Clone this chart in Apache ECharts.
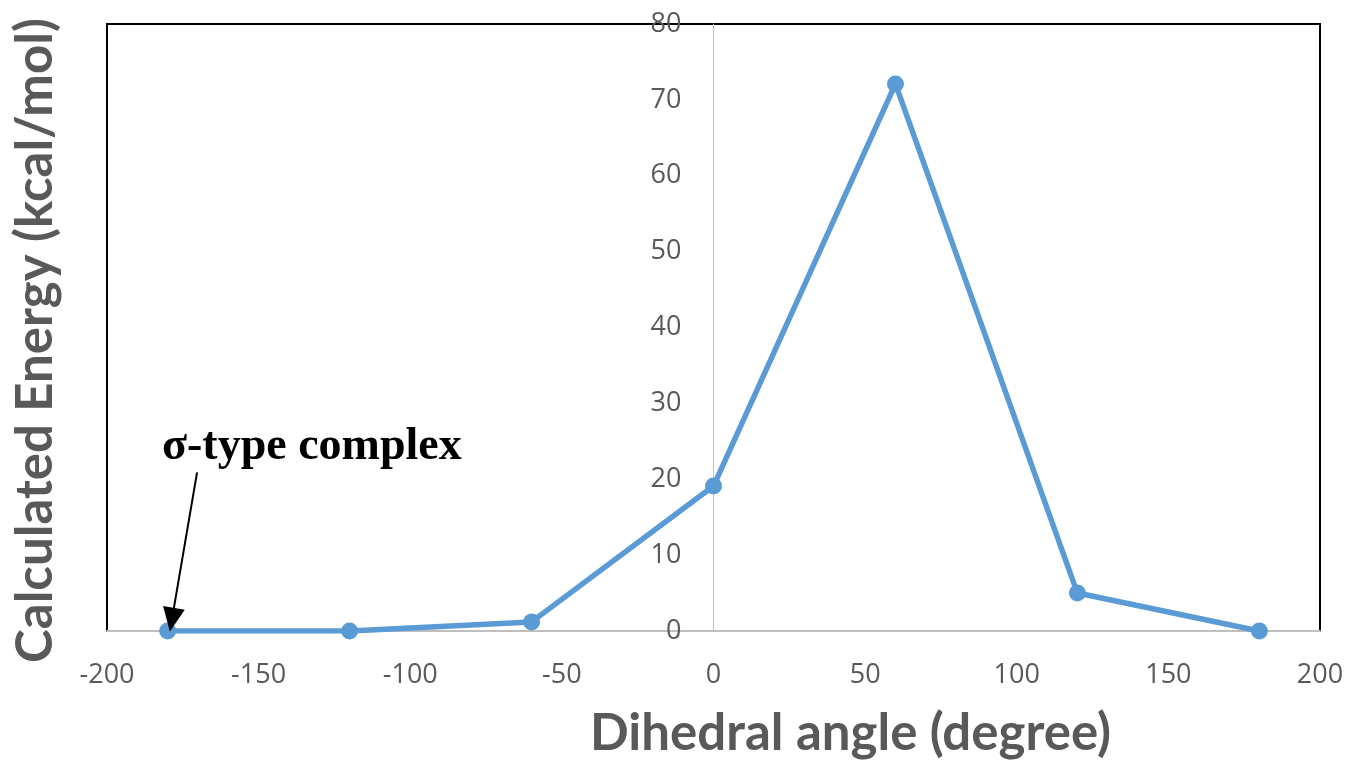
<!DOCTYPE html>
<html>
<head>
<meta charset="utf-8">
<script src="https://cdn.jsdelivr.net/npm/echarts@6/dist/echarts.min.js"></script>
<style>
  html, body { margin: 0; padding: 0; background: #fff; }
  #chart { width: 1347px; height: 768px; }
</style>
</head>
<body>
<div id="chart"></div>
<script>
// Dihedral scan: angle (degree) vs calculated energy (kcal/mol)
const angles = [-180, -120, -60, 0, 60, 120, 180];
const energies = [0, 0, 1.2, 19.1, 72.1, 5.0, 0];
const xTicks = { min: -200, max: 200, interval: 50 };
const yTicks = { min: 0, max: 80, interval: 10 };
const xTitle = 'Dihedral angle (degree)';
const yTitle = 'Calculated Energy (kcal/mol)';
const noteText = 'σ-type complex';
// arrow from the note down to the first scan point
const arrowFrom = [-170.3, 20.9];
const arrowTo = [-178.6, 1.5];

const points = angles.map((a, i) => [a, energies[i]]);

const gridBox = { left: 107, right: 27, top: 24, bottom: 137 };
const chartWidth = 1347;
const gridWidth = chartWidth - gridBox.left - gridBox.right;
// the value axis sits on x = 0, so shift it inward from the left edge of the grid
const yAxisShift = -gridWidth * (0 - xTicks.min) / (xTicks.max - xTicks.min);

const chart = echarts.init(document.getElementById('chart'));
const tickFont = { fontFamily: 'Open Sans', fontSize: 27, color: '#595959' };

chart.setOption({
  animation: false,
  grid: Object.assign({
    show: true, borderColor: '#000', borderWidth: 2, backgroundColor: 'transparent'
  }, gridBox),
  xAxis: {
    type: 'value',
    min: xTicks.min, max: xTicks.max, interval: xTicks.interval,
    axisLine: { show: true, onZero: false, lineStyle: { color: '#bfbfbf', width: 2 } },
    axisTick: { show: false },
    splitLine: { show: false },
    axisLabel: Object.assign({ margin: 31 }, tickFont)
  },
  yAxis: {
    type: 'value',
    min: yTicks.min, max: yTicks.max, interval: yTicks.interval,
    offset: yAxisShift,
    axisLine: { show: true, onZero: false, lineStyle: { color: '#bfbfbf', width: 1 } },
    axisTick: { show: false },
    splitLine: { show: false },
    axisLabel: Object.assign({ margin: 32 }, tickFont)
  },
  series: [{
    type: 'line',
    data: points,
    symbol: 'circle',
    symbolSize: 17,
    lineStyle: { color: '#5b9bd5', width: 5.5 },
    itemStyle: { color: '#5b9bd5' },
    markLine: {
      silent: true,
      symbol: ['none', 'triangle'],
      symbolSize: [22, 24],
      lineStyle: { color: '#000', width: 2, type: 'solid' },
      label: { show: false },
      data: [[{ coord: arrowFrom }, { coord: arrowTo }]]
    }
  }],
  graphic: [
    {
      type: 'text', left: 162, top: 424,
      style: { text: noteText, font: 'bold 46px "Liberation Serif"', fill: '#000' }
    },
    {
      type: 'text', left: 590, top: 708,
      style: { text: xTitle, font: 'bold 51px Lato', fill: '#595959' }
    },
    {
      type: 'text', rotation: Math.PI / 2, left: 10, top: 18,
      style: { text: yTitle, font: 'bold 51px Lato', fill: '#595959' }
    }
  ]
});
</script>
</body>
</html>
